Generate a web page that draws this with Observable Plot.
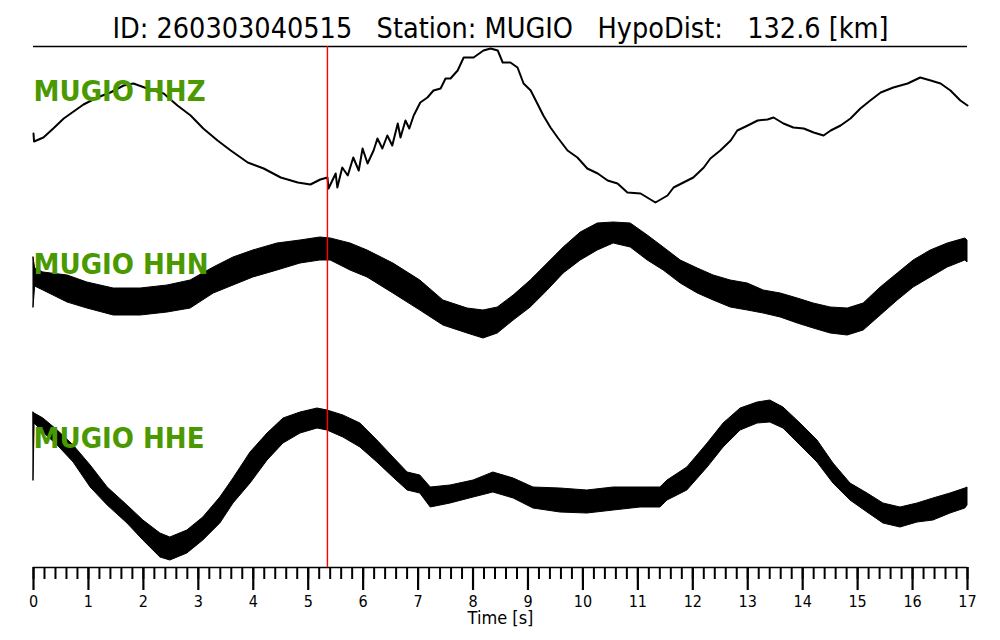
<!DOCTYPE html>
<html>
<head>
<meta charset="utf-8">
<script src="https://cdn.jsdelivr.net/npm/d3@7"></script>
<script src="https://cdn.jsdelivr.net/npm/@observablehq/plot@0.6"></script>
<style>
  html, body { margin: 0; padding: 0; background: #fff; }
  svg text { white-space: pre; }
</style>
</head>
<body>
<div id="chart"></div>
<script>
// ---- texts ----
const titleText = "ID: 260303040515   Station: MUGIO   HypoDist:   132.6 [km]";
const xLabel = "Time [s]";
const channels = ["MUGIO HHZ", "MUGIO HHN", "MUGIO HHE"];
const majorTicks = [0,1,2,3,4,5,6,7,8,9,10,11,12,13,14,15,16,17];
const pickTime = [5.35];

// ---- HHZ trace: [time s, amplitude (arbitrary units)] ----
const hhz = [
  [0,0],[0.01,-8],[0.18,-4],[0.36,5],[0.55,15],[0.73,22],[0.91,29],[1.16,36],[1.40,41],[1.64,48],
  [1.82,50],[2.07,45],[2.37,40],[2.62,28],[2.86,18],[3.09,5],[3.35,-7],[3.59,-17],[3.90,-29],[4.19,-35],
  [4.50,-44],[4.81,-49],[5.04,-51],[5.22,-46],[5.35,-44],[5.37,-55],[5.50,-40],[5.53,-54],[5.62,-34],[5.72,-42],
  [5.82,-24],[5.92,-37],[5.99,-15],[6.08,-30],[6.19,-17],[6.26,-5],[6.35,-15],[6.44,-2],[6.53,-12],[6.63,10],
  [6.68,-4],[6.77,13],[6.84,5],[6.92,18],[7.04,31],[7.17,36],[7.28,43],[7.41,45],[7.50,55],[7.59,55],
  [7.72,63],[7.83,76],[8.01,76],[8.19,83],[8.32,85],[8.45,83],[8.54,71],[8.68,71],[8.81,66],[8.92,50],
  [9.05,43],[9.17,30],[9.28,18],[9.41,6],[9.54,-4],[9.72,-17],[9.90,-24],[10.08,-35],[10.27,-40],[10.45,-47],
  [10.63,-50],[10.81,-59],[11.05,-60],[11.32,-69],[11.54,-62],[11.65,-54],[11.83,-49],[12.01,-44],[12.20,-34],[12.32,-25],
  [12.50,-17],[12.69,-7],[12.81,3],[13.00,8],[13.18,13],[13.36,14],[13.47,16],[13.65,10],[13.83,6],[14.02,5],
  [14.20,1],[14.38,-2],[14.51,3],[14.69,8],[14.87,15],[15.05,25],[15.23,33],[15.42,41],[15.65,46],[15.91,50],
  [16.14,56],[16.33,53],[16.51,50],[16.69,43],[16.87,33],[17.00,28]
];

// ---- HHN trace envelope: [time s, upper, lower] ----
const hhn = [
  [0,49,-1],[0.03,38,20],[0.18,34,16],[0.62,31,4],[0.98,24,-2],[1.46,18,-9],[1.95,18,-9],[2.44,21,-6],
  [2.86,26,-2],[3.28,39,13],[3.64,49,21],[4.00,56,29],[4.44,63,36],[4.86,66,43],[5.22,69,46],[5.41,68,46],
  [5.77,63,36],[6.08,56,29],[6.55,43,13],[7.04,26,-4],[7.46,6,-19],[7.90,-2,-27],[8.19,-4,-32],[8.45,-1,-27],
  [8.74,11,-14],[9.05,26,-1],[9.36,43,16],[9.65,59,33],[9.96,74,46],[10.27,83,56],[10.56,84,63],[10.87,83,59],
  [11.18,71,46],[11.47,59,36],[11.78,46,23],[12.09,38,13],[12.38,31,6],[12.69,26,-1],[13.00,23,-4],[13.29,16,-7],
  [13.60,13,-11],[13.91,8,-17],[14.20,3,-22],[14.51,-1,-27],[14.82,-2,-29],[15.11,3,-24],[15.42,19,-9],[15.73,33,6],
  [16.02,46,19],[16.33,56,29],[16.64,63,39],[16.96,68,46],[17.00,66,44]
];

// ---- HHE trace envelope: [time s, upper, lower] ----
const hhe = [
  [0,68,0],[0.02,67,57],[0.18,62,48],[0.44,50,35],[0.73,35,18],[1.04,15,-7],[1.35,-7,-25],[1.71,-25,-43],
  [2.00,-40,-60],[2.31,-53,-77],[2.49,-57,-80],[2.80,-50,-73],[3.09,-37,-60],[3.40,-17,-43],[3.64,2,-23],[3.95,28,-3],
  [4.26,47,20],[4.55,62,37],[4.86,68,47],[5.17,72,52],[5.35,70,50],[5.64,65,43],[5.95,57,33],[6.26,40,18],
  [6.55,23,3],[6.81,8,-10],[7.04,5,-13],[7.23,-7,-27],[7.59,-5,-23],[8.01,0,-17],[8.37,8,-12],[8.74,2,-18],
  [9.10,-7,-28],[9.59,-8,-32],[10.08,-10,-33],[10.56,-7,-30],[11.05,-7,-27],[11.41,-7,-27],[11.54,0,-20],[11.90,13,-10],
  [12.27,37,13],[12.56,57,33],[12.87,72,50],[13.18,78,57],[13.41,80,58],[13.65,73,52],[13.96,57,35],[14.27,40,18],
  [14.56,17,-3],[14.87,-3,-20],[15.18,-13,-32],[15.47,-23,-43],[15.78,-27,-47],[16.09,-23,-42],[16.38,-18,-40],
  [16.69,-13,-33],[16.96,-8,-28],[17.00,-7,-25]
];

// ---- layout constants ----
const yDomain = [-261, 260];
const offsets = [173, 0, -174];       // vertical offset of each channel
const labelLift = 42;
const minorTicks = d3.range(0, 17.0001, 0.2).map(v => +v.toFixed(1));
const green = "#4b9900";
const font = "'DejaVu Sans Condensed', 'DejaVu Sans', sans-serif";

const labelData = channels.map((name, i) => ({name, y: offsets[i] + labelLift}));

const chart = Plot.plot({
  width: 1000,
  height: 640,
  marginLeft: 33,
  marginRight: 33,
  marginTop: 46,
  marginBottom: 73,
  style: {fontFamily: font, background: "#fff", color: "#000"},
  x: {domain: [0, 17]},
  y: {domain: yDomain, axis: null},
  marks: [
    Plot.ruleY([yDomain[1]], {stroke: "#000", strokeWidth: 1.5}),
    Plot.ruleY([yDomain[0]], {stroke: "#000", strokeWidth: 1.5}),
    Plot.lineY(hhz, {x: d => d[0], y: d => d[1] + offsets[0], stroke: "#000", strokeWidth: 2, curve: "linear"}),
    Plot.areaY(hhn, {x: d => d[0], y1: d => d[2] + offsets[1], y2: d => d[1] + offsets[1], fill: "#000", stroke: "#000", strokeWidth: 1, curve: "linear"}),
    Plot.areaY(hhe, {x: d => d[0], y1: d => d[2] + offsets[2], y2: d => d[1] + offsets[2], fill: "#000", stroke: "#000", strokeWidth: 1, curve: "linear"}),
    Plot.ruleX(pickTime, {stroke: "#ff0000", strokeWidth: 1.4}),
    Plot.text(labelData, {x: 0, y: "y", text: "name", textAnchor: "start", lineAnchor: "middle", fill: green, fontSize: 29, fontWeight: "bold"}),
    Plot.axisX({ticks: minorTicks, tickSize: 12, text: null, label: null, strokeWidth: 2}),
    Plot.axisX({ticks: majorTicks, tickSize: 23, tickPadding: 5, fontSize: 16, label: null, strokeWidth: 2.2, tickFormat: d => String(d)}),
    Plot.text([xLabel], {frameAnchor: "bottom", dy: 51, lineAnchor: "middle", fontSize: 18, fill: "#000"}),
    Plot.text([titleText], {frameAnchor: "top", dy: -18, lineAnchor: "middle", fontSize: 28.5, fill: "#000"})
  ]
});
document.getElementById("chart").appendChild(chart);
</script>
</body>
</html>
